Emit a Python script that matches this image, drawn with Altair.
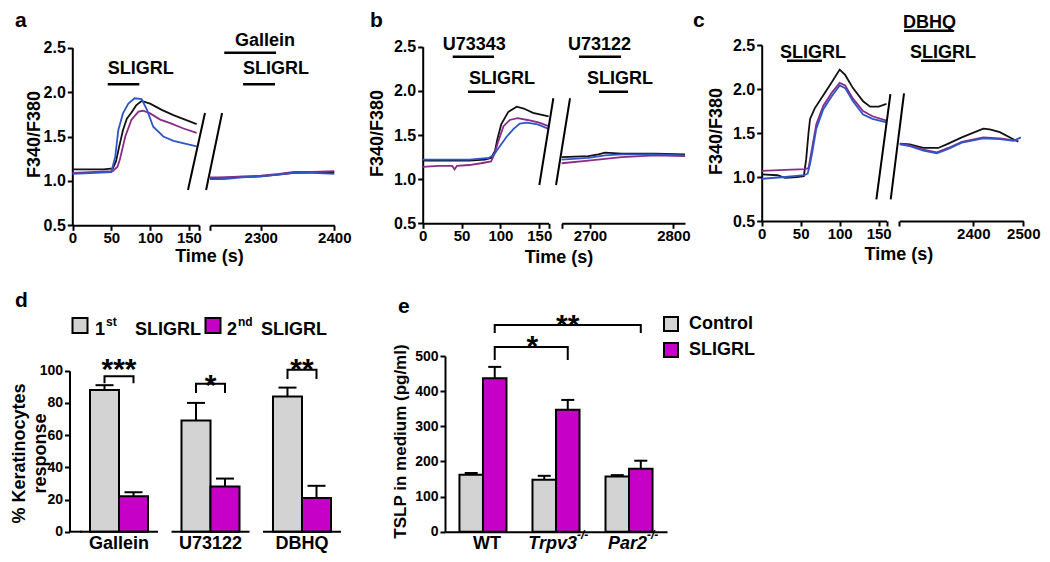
import altair as alt
import pandas as pd

FONT = "Liberation Sans"
W, H = 1034, 546
MAG = "#c600c6"
GRAY = "#d3d3d3"
CELLS = ["black", "purple", "blue"]
CELL_COLORS = ["#111111", "#8a2b8a", "#2f56c6"]

# ---------------- panel a traces ----------------
a_l_black_t = [0, 20, 40, 52, 56, 60, 65, 70, 76, 82, 89, 100, 115, 130, 145, 160]
a_l_black_v = [1.13, 1.13, 1.13, 1.14, 1.22, 1.38, 1.57, 1.70, 1.77, 1.85, 1.90, 1.87, 1.80, 1.74, 1.69, 1.64]
a_l_purple_t = [0, 30, 52, 58, 61, 68, 76, 85, 91, 100, 113, 126, 143, 160]
a_l_purple_v = [1.09, 1.10, 1.11, 1.16, 1.24, 1.50, 1.69, 1.78, 1.79, 1.76, 1.69, 1.65, 1.59, 1.54]
a_l_blue_t = [0, 30, 50, 55, 59, 65, 72, 80, 89, 96, 104, 117, 130, 145, 160]
a_l_blue_v = [1.08, 1.09, 1.10, 1.27, 1.57, 1.76, 1.87, 1.93, 1.92, 1.80, 1.61, 1.50, 1.45, 1.42, 1.39]

a_r_black_t = [2231, 2260, 2300, 2345, 2400]
a_r_black_v = [1.03, 1.04, 1.05, 1.09, 1.10]
a_r_purple_t = [2231, 2250, 2275, 2300, 2325, 2345, 2370, 2400]
a_r_purple_v = [1.04, 1.04, 1.05, 1.06, 1.08, 1.10, 1.10, 1.11]
a_r_blue_t = [2231, 2250, 2275, 2300, 2325, 2345, 2370, 2400]
a_r_blue_v = [1.02, 1.02, 1.04, 1.05, 1.07, 1.09, 1.09, 1.08]

# ---------------- panel b traces ----------------
b_l_black_t = [0, 30, 60, 80, 88, 93, 96, 101, 110, 121, 130, 142, 162]
b_l_black_v = [1.21, 1.21, 1.21, 1.22, 1.24, 1.32, 1.45, 1.62, 1.76, 1.82, 1.80, 1.75, 1.71]
b_l_purple_t = [0, 20, 38, 41, 44, 60, 75, 88, 92, 97, 104, 112, 122, 135, 150, 162]
b_l_purple_v = [1.14, 1.15, 1.15, 1.11, 1.15, 1.16, 1.18, 1.20, 1.28, 1.42, 1.60, 1.67, 1.69, 1.67, 1.64, 1.60]
b_l_blue_t = [0, 30, 60, 85, 92, 99, 108, 117, 125, 134, 148, 162]
b_l_blue_v = [1.22, 1.22, 1.22, 1.24, 1.28, 1.37, 1.48, 1.57, 1.63, 1.64, 1.62, 1.57]

b_r_black_t = [2666, 2698, 2710, 2718, 2738, 2778, 2814]
b_r_black_v = [1.25, 1.26, 1.28, 1.30, 1.29, 1.29, 1.28]
b_r_purple_t = [2666, 2698, 2718, 2738, 2778, 2814]
b_r_purple_v = [1.18, 1.21, 1.23, 1.25, 1.27, 1.26]
b_r_blue_t = [2666, 2698, 2718, 2738, 2778, 2814]
b_r_blue_v = [1.22, 1.24, 1.27, 1.28, 1.28, 1.27]

# ---------------- panel c traces ----------------
c_l_black_t = [0, 20, 30, 45, 54, 57, 60, 62, 68, 79, 90, 100, 107, 117, 130, 139, 150, 160]
c_l_black_v = [1.03, 1.02, 0.99, 1.00, 1.01, 1.20, 1.50, 1.66, 1.78, 1.93, 2.08, 2.22, 2.16, 2.01, 1.86, 1.80, 1.80, 1.83]
c_l_purple_t = [0, 30, 55, 60, 64, 70, 79, 90, 100, 107, 117, 130, 142, 160]
c_l_purple_v = [1.07, 1.08, 1.09, 1.10, 1.30, 1.60, 1.81, 1.96, 2.07, 2.04, 1.89, 1.75, 1.69, 1.64]
c_l_blue_t = [0, 30, 55, 59, 62, 65, 70, 79, 90, 100, 107, 117, 130, 142, 160]
c_l_blue_v = [0.98, 1.00, 1.02, 1.04, 1.15, 1.29, 1.55, 1.77, 1.92, 2.04, 2.01, 1.86, 1.71, 1.66, 1.62]

c_r_black_t = [2253, 2273, 2300, 2330, 2350, 2377, 2420, 2433, 2453, 2490]
c_r_black_v = [1.38, 1.37, 1.33, 1.33, 1.38, 1.45, 1.55, 1.54, 1.51, 1.40]
c_r_purple_t = [2253, 2273, 2300, 2327, 2350, 2377, 2420, 2453, 2490]
c_r_purple_v = [1.38, 1.36, 1.31, 1.28, 1.33, 1.40, 1.45, 1.44, 1.41]
c_r_blue_t = [2253, 2273, 2300, 2327, 2350, 2377, 2420, 2453, 2480, 2495]
c_r_blue_v = [1.37, 1.35, 1.30, 1.27, 1.32, 1.39, 1.44, 1.43, 1.41, 1.45]

# ---------------- treatment annotations (t start, t end, level) ----------------
a_l_bars = [(45.4, 86.1, 2.088)]
a_l_labels = [(45.4, 2.204, "SLIGRL")]
a_r_bars = [(2250.4, 2320.8, 2.444), (2276.0, 2319.4, 2.088)]
a_r_labels = [(2265.1, 2.519, "Gallein"), (2276.0, 2.204, "SLIGRL")]
b_l_bars = [(38.6, 91.8, 2.387), (58.3, 93.1, 1.99)]
b_l_labels = [(25.9, 2.463, "U73343"), (59.6, 2.078, "SLIGRL")]
b_r_bars = [(2686.8, 2737.2, 2.387), (2710.8, 2745.6, 1.99)]
b_r_labels = [(2673.6, 2.463, "U73122"), (2696.4, 2.078, "SLIGRL")]
c_l_bars = [(32.4, 77.3, 2.32)]
c_l_labels = [(23.5, 2.352, "SLIGRL")]
c_r_bars = [(2261.4, 2359.4, 2.662), (2295.4, 2363.4, 2.32)]
c_r_labels = [(2259.4, 2.693, "DBHQ"), (2273.4, 2.352, "SLIGRL")]

# axis-break slashes (t, v, t2, v2)
a_l_slash = [(148.8, 0.898, 170.7, 1.765)]
a_r_slash = [(2225.7, 0.898, 2247.4, 1.765)]
b_l_slash = [(150.1, 0.934, 168.1, 1.916)]
b_r_slash = [(2659.2, 0.934, 2676.0, 1.916)]
c_l_slash = [(147.0, 0.747, 165.0, 1.943)]
c_r_slash = [(2234.8, 0.747, 2261.4, 1.951)]

# ---------------- panel d ----------------
D_GROUPS = ["Gallein", "U73122", "DBHQ"]
D_SERIES = ["1st", "2nd"]
D_MEAN_1ST = [88, 69, 84]
D_SEM_1ST = [3, 11, 5.5]
D_MEAN_2ND = [22, 28, 21]
D_SEM_2ND = [2.5, 5, 7.5]
D_SIG = ["***", "*", "**"]
D_BR_TOP = [96.5, 91.9, 100.6]
D_BR_LEG = [92.2, 86.1, 94.8]
D_STAR_Y = [94.8, 85.0, 94.8]

# ---------------- panel e ----------------
E_GENO = ["WT", "Trpv3", "Par2"]
E_TREAT = ["Control", "SLIGRL"]
E_MEAN_CTRL = [162, 148, 157]
E_SEM_CTRL = [5, 11, 4]
E_MEAN_SLIGRL = [437, 347, 179]
E_SEM_SLIGRL = [32, 28, 23]
E_BR_END = ["Par2", "Trpv3"]
E_BR_SIG = ["**", "*"]
E_BR_TOP = [588.2, 525.6]
E_BR_LEG = [565.5, 488.6]
E_STAR_Y = [560.6, 500.0]


def xaxis(axis_y, values, blank=None, title=None, tx=0, ty=0):
    kw = dict(orient="bottom", offset=axis_y - H, values=values, format="d",
              labelPadding=0, labelFontSize=15, tickSize=5, title=title,
              titleX=tx, titleY=ty, titleBaseline="alphabetic")
    if blank is not None:
        kw["labelExpr"] = f"datum.value == {blank} ? '' : datum.label"
    return alt.Axis(**kw)


def yaxis(axis_x, tx, ty):
    return alt.Axis(orient="left", offset=-axis_x, values=[0.5, 1.0, 1.5, 2.0, 2.5],
                    format=".1f", title="F340/F380", titleAngle=270, titleX=tx, titleY=ty,
                    titleBaseline="middle", titleAlign="center", labelPadding=2,
                    labelFontSize=16, tickSize=5)


def segment(traces, xdom, xrng, ydom, yrng, xax, yax, bars, labels, slash):
    X = alt.X("t:Q", scale=alt.Scale(domain=xdom, range=xrng, nice=False, zero=False), axis=xax)
    Y = alt.Y("v:Q", scale=alt.Scale(domain=ydom, range=yrng, nice=False, zero=False), axis=yax)
    rows = []
    for cell, ts, vs in traces:
        for i, (t, v) in enumerate(zip(ts, vs)):
            rows.append({"cell": cell, "t": t, "v": v, "i": i})
    lines = alt.Chart(pd.DataFrame(rows)).mark_line(strokeWidth=1.8).encode(
        x=X, y=Y,
        color=alt.Color("cell:N", scale=alt.Scale(domain=CELLS, range=CELL_COLORS), legend=None),
        order="i:Q")
    bar_layer = alt.Chart(pd.DataFrame(bars, columns=["t", "t2", "v"])).mark_rule(
        strokeWidth=2.5, color="black").encode(x=X, x2="t2:Q", y=Y)
    lab_layer = alt.Chart(pd.DataFrame(labels, columns=["t", "v", "txt"])).mark_text(
        align="left", baseline="alphabetic", font=FONT, fontSize=18, fontWeight="bold",
        color="black").encode(x=X, y=Y, text="txt:N")
    sl_layer = alt.Chart(pd.DataFrame(slash, columns=["t", "v", "t2", "v2"])).mark_rule(
        strokeWidth=2, color="black").encode(x=X, y=Y, x2="t2:Q", y2="v2:Q")
    return alt.layer(lines, bar_layer, lab_layer, sl_layer)


def px_text(txt, x, y, size, weight="bold", align="left", style="normal"):
    return alt.Chart(pd.DataFrame({"txt": [txt]})).mark_text(
        align=align, baseline="alphabetic", font=FONT, fontSize=size, fontWeight=weight,
        fontStyle=style, color="black").encode(x=alt.value(x), y=alt.value(y), text="txt:N")


# ---------------- trace panels ----------------
a_left = segment(
    [("black", a_l_black_t, a_l_black_v), ("purple", a_l_purple_t, a_l_purple_v), ("blue", a_l_blue_t, a_l_blue_v)],
    [0, 163], [64.5, 191.0], [0.5, 2.5], [217.3, 39.7],
    xaxis(217.3, [0, 50, 100, 150, 163], 163, "Time (s)", 201, 36), yaxis(64.3, -38.3, 126),
    a_l_bars, a_l_labels, a_l_slash)
a_right = segment(
    [("black", a_r_black_t, a_r_black_v), ("purple", a_r_purple_t, a_r_purple_v), ("blue", a_r_blue_t, a_r_blue_v)],
    [2231, 2400], [202.0, 326.3], [0.5, 2.5], [217.3, 39.7],
    xaxis(217.3, [2231, 2300, 2400], 2231), None,
    a_r_bars, a_r_labels, a_r_slash)
b_left = segment(
    [("black", b_l_black_t, b_l_black_v), ("purple", b_l_purple_t, b_l_purple_v), ("blue", b_l_blue_t, b_l_blue_v)],
    [0, 162], [414.7, 540.6], [0.5, 2.5], [215.3, 38.7],
    xaxis(215.3, [0, 50, 100, 150, 162], 162, "Time (s)", 550.5, 39), yaxis(414.7, -45.2, 125),
    b_l_bars, b_l_labels, b_l_slash)
b_right = segment(
    [("black", b_r_black_t, b_r_black_v), ("purple", b_r_purple_t, b_r_purple_v), ("blue", b_r_blue_t, b_r_blue_v)],
    [2666, 2814], [553.7, 677.0], [0.5, 2.5], [215.3, 38.7],
    xaxis(215.3, [2666, 2700, 2800], 2666), None,
    b_r_bars, b_r_labels, b_r_slash)
c_left = segment(
    [("black", c_l_black_t, c_l_black_v), ("purple", c_l_purple_t, c_l_purple_v), ("blue", c_l_blue_t, c_l_blue_v)],
    [0, 160], [753.7, 878.5], [0.5, 2.5], [213.0, 37.0],
    xaxis(213.0, [0, 50, 100, 150, 160], 160, "Time (s)", 890.3, 38), yaxis(753.7, -45.2, 123),
    c_l_bars, c_l_labels, c_l_slash)
c_right = segment(
    [("black", c_r_black_t, c_r_black_v), ("purple", c_r_purple_t, c_r_purple_v), ("blue", c_r_blue_t, c_r_blue_v)],
    [2252, 2500], [891.3, 1015.3], [0.5, 2.5], [213.0, 37.0],
    xaxis(213.0, [2252, 2400, 2500], 2252), None,
    c_r_bars, c_r_labels, c_r_slash)

# ---------------- panel d ----------------
d_rows = []
for g, m1, s1, m2, s2 in zip(D_GROUPS, D_MEAN_1ST, D_SEM_1ST, D_MEAN_2ND, D_SEM_2ND):
    d_rows.append({"grp": g, "ser": "1st", "mean": m1, "top": m1 + s1})
    d_rows.append({"grp": g, "ser": "2nd", "mean": m2, "top": m2 + s2})
d_df = pd.DataFrame(d_rows)

DX = alt.X("grp:N", scale=alt.Scale(domain=D_GROUPS, range=[82, 323], paddingInner=0.366, paddingOuter=0),
           axis=alt.Axis(orient="bottom", offset=523.7 - H, domain=False, ticks=False, labelAngle=0,
                         labelFontSize=18, labelPadding=3, title=None))
DXO = alt.XOffset("ser:N", scale=alt.Scale(domain=D_SERIES, paddingInner=0, paddingOuter=0))
d_yscale = alt.Scale(domain=[0, 100], range=[523.7, 362.7], nice=False, zero=False)
d_yaxis = alt.Axis(orient="left", offset=-61.5, values=[0, 20, 40, 60, 80, 100], format="d",
                   title=["% Keratinocytes", "response"], titleAngle=270, titleX=-50.5, titleY=445,
                   titleBaseline="middle", titleAlign="center", titleLineHeight=21,
                   labelFontSize=14, labelPadding=2, tickSize=5)


def DY(f):
    return alt.Y(f, scale=d_yscale, axis=d_yaxis)


d_bars = alt.Chart(d_df).mark_bar(stroke="black", strokeWidth=2).encode(
    x=DX, xOffset=DXO, y=DY("mean:Q"),
    color=alt.Color("ser:N", scale=alt.Scale(domain=D_SERIES, range=[GRAY, MAG]), legend=None))
d_err = alt.Chart(d_df).mark_rule(color="black", strokeWidth=2).encode(
    x=DX, xOffset=DXO, y=DY("mean:Q"), y2="top:Q")
d_cap = alt.Chart(d_df).mark_tick(orient="horizontal", size=18, thickness=2, color="black", opacity=1).encode(
    x=DX, xOffset=DXO, y=DY("top:Q"))
d_base = alt.Chart(pd.DataFrame({"grp": D_GROUPS, "zero": [0, 0, 0]})).mark_tick(
    orient="horizontal", size=78, thickness=2, color="black", opacity=1).encode(x=DX, y=DY("zero:Q"))
d_base0 = alt.Chart(pd.DataFrame({"k": [0]})).mark_rule(color="black", strokeWidth=2).encode(
    x=alt.value(61.5), x2=alt.value(74), y=alt.value(523.7))
br_rows = []
for g, top, leg in zip(D_GROUPS, D_BR_TOP, D_BR_LEG):
    for i, (s, yv) in enumerate([("1st", leg), ("1st", top), ("2nd", top), ("2nd", leg)]):
        br_rows.append({"grp": g, "ser": s, "by": yv, "b": g, "i": i})
d_br = alt.Chart(pd.DataFrame(br_rows)).mark_line(color="black", strokeWidth=2).encode(
    x=DX, xOffset=DXO, y=DY("by:Q"), detail="b:N", order="i:Q")
d_star = alt.Chart(pd.DataFrame({"grp": D_GROUPS, "txt": D_SIG, "sy": D_STAR_Y})).mark_text(
    align="center", baseline="alphabetic", font=FONT, fontSize=30, fontWeight="bold", color="black").encode(
    x=DX, y=DY("sy:Q"), text="txt:N")
d_panel = alt.layer(d_bars, d_err, d_cap, d_base, d_br, d_star)

# ---------------- panel e ----------------
e_rows = []
for g, mc, sc, ms, ss in zip(E_GENO, E_MEAN_CTRL, E_SEM_CTRL, E_MEAN_SLIGRL, E_SEM_SLIGRL):
    e_rows.append({"geno": g, "treat": "Control", "mean": mc, "top": mc + sc})
    e_rows.append({"geno": g, "treat": "SLIGRL", "mean": ms, "top": ms + ss})
e_df = pd.DataFrame(e_rows)

EX = alt.X("geno:N", scale=alt.Scale(domain=E_GENO, range=[437, 659], paddingInner=0.356, paddingOuter=0.198),
           axis=alt.Axis(orient="bottom", offset=523.7 - H, domain=True, ticks=False, labels=False, title=None))
EXO = alt.XOffset("treat:N", scale=alt.Scale(domain=E_TREAT, paddingInner=0, paddingOuter=0))
e_yscale = alt.Scale(domain=[0, 500], range=[523.7, 348.0], nice=False, zero=False)
e_yaxis = alt.Axis(orient="left", offset=-437, values=[0, 100, 200, 300, 400, 500], format="d",
                   title="TSLP in medium (pg/ml)", titleAngle=270, titleX=-45, titleY=433,
                   titleBaseline="middle", titleAlign="center", titleFontSize=17,
                   labelFontSize=14, labelPadding=2, tickSize=5)


def EY(f):
    return alt.Y(f, scale=e_yscale, axis=e_yaxis)


e_bars = alt.Chart(e_df).mark_bar(stroke="black", strokeWidth=2).encode(
    x=EX, xOffset=EXO, y=EY("mean:Q"),
    color=alt.Color("treat:N", scale=alt.Scale(domain=E_TREAT, range=[GRAY, MAG]),
                    legend=alt.Legend(orient="none", legendX=654, legendY=307, title=None,
                                      symbolType="square", symbolSize=196, symbolStrokeColor="black",
                                      symbolStrokeWidth=2, symbolOpacity=1, labelFont=FONT,
                                      labelFontSize=18, labelFontWeight="bold", labelColor="black",
                                      labelOffset=9, rowPadding=4, padding=0)))
e_err = alt.Chart(e_df).mark_rule(color="black", strokeWidth=2).encode(
    x=EX, xOffset=EXO, y=EY("mean:Q"), y2="top:Q")
e_cap = alt.Chart(e_df).mark_tick(orient="horizontal", size=13, thickness=2, color="black", opacity=1).encode(
    x=EX, xOffset=EXO, y=EY("top:Q"))
ebr_rows = []
for end, top, leg in zip(E_BR_END, E_BR_TOP, E_BR_LEG):
    for i, (g, yv) in enumerate([("WT", leg), ("WT", top), (end, top), (end, leg)]):
        ebr_rows.append({"geno": g, "treat": "SLIGRL", "by": yv, "b": end, "i": i})
e_br = alt.Chart(pd.DataFrame(ebr_rows)).mark_line(color="black", strokeWidth=2).encode(
    x=EX, xOffset=EXO, y=EY("by:Q"), detail="b:N", order="i:Q")
e_star2 = alt.Chart(pd.DataFrame({"geno": ["Trpv3"], "treat": ["SLIGRL"], "txt": [E_BR_SIG[0]], "sy": [E_STAR_Y[0]]})).mark_text(
    align="center", baseline="alphabetic", font=FONT, fontSize=30, fontWeight="bold", color="black").encode(
    x=EX, xOffset=EXO, y=EY("sy:Q"), text="txt:N")
e_star1 = alt.Chart(pd.DataFrame({"geno": ["Trpv3"], "treat": ["Control"], "txt": [E_BR_SIG[1]], "sy": [E_STAR_Y[1]]})).mark_text(
    align="center", baseline="alphabetic", font=FONT, fontSize=30, fontWeight="bold", color="black", dx=-12).encode(
    x=EX, xOffset=EXO, y=EY("sy:Q"), text="txt:N")


def e_label(geno, main, sup, shift, italic):
    df = pd.DataFrame({"geno": [geno], "txt": [main], "sup": [sup]})
    style = "italic" if italic else "normal"
    if not sup:
        return [alt.Chart(df).mark_text(align="center", baseline="alphabetic", font=FONT, fontSize=18,
                                        fontWeight="bold", fontStyle=style, color="black", dx=shift).encode(
            x=EX, y=alt.value(541), text="txt:N")]
    return [
        alt.Chart(df).mark_text(align="right", baseline="alphabetic", font=FONT, fontSize=18,
                                fontWeight="bold", fontStyle=style, color="black", dx=shift).encode(
            x=EX, y=alt.value(541), text="txt:N"),
        alt.Chart(df).mark_text(align="left", baseline="alphabetic", font=FONT, fontSize=12,
                                fontWeight="bold", fontStyle=style, color="black", dx=shift).encode(
            x=EX, y=alt.value(531), text="sup:N"),
    ]


e_labels = e_label("WT", "WT", "", 4, False) + e_label("Trpv3", "Trpv3", "-/-", 21, True) + \
    e_label("Par2", "Par2", "-/-", 18, True)
e_panel = alt.layer(e_bars, e_err, e_cap, e_br, e_star2, e_star1, *e_labels)

# ---------------- legend of d, panel letters ----------------
d_leg = [
    alt.Chart(pd.DataFrame({"k": [0]})).mark_square(size=225, filled=True, color=GRAY, stroke="black",
                                                    strokeWidth=2, opacity=1).encode(
        x=alt.value(72), y=alt.value(317.5)),
    alt.Chart(pd.DataFrame({"k": [0]})).mark_square(size=225, filled=True, color=MAG, stroke="black",
                                                    strokeWidth=2, opacity=1).encode(
        x=alt.value(205), y=alt.value(317.5)),
    px_text("1", 87, 327, 18), px_text("st", 98, 318, 12), px_text("SLIGRL", 127, 327, 18),
    px_text("2", 219, 327, 18), px_text("nd", 230, 318, 12), px_text("SLIGRL", 253, 327, 18),
]
letters = [px_text("a", 7, 19, 21), px_text("b", 362, 19, 21), px_text("c", 685, 19, 21),
           px_text("d", 7, 299, 21), px_text("e", 390, 305, 21)]

chart = alt.layer(
    a_left, a_right, b_left, b_right, c_left, c_right, d_panel, d_base0, e_panel, *d_leg, *letters
).resolve_scale(
    x="independent", y="independent", color="independent", xOffset="independent"
).properties(
    width=W, height=H, autosize=alt.AutoSizeParams(type="none"), padding=0
).configure_axis(
    domainColor="black", domainWidth=2, tickColor="black", tickWidth=2, labelColor="black",
    labelFont=FONT, labelFontWeight="bold", titleColor="black", titleFont=FONT,
    titleFontWeight="bold", titleFontSize=18, grid=False, labelFlush=False, labelOverlap=False
).configure_view(stroke=None)

chart.save("out.html", embed_options={"renderer": "svg", "actions": False})
